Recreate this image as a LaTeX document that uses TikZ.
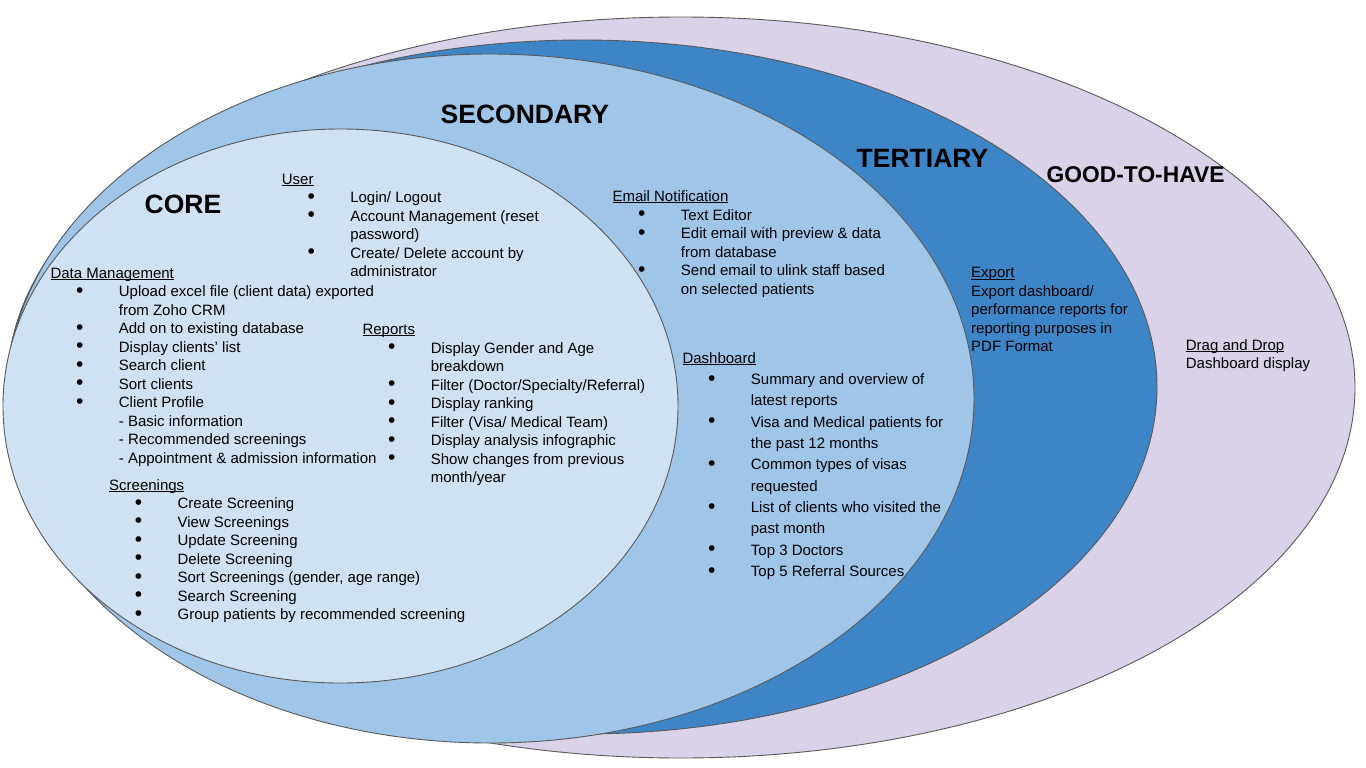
\documentclass[tikz,border=0pt]{standalone}
\usepackage{fontspec}
\setmainfont{Liberation Sans}
\definecolor{cGood}{HTML}{D9D2E9}
\definecolor{cTert}{HTML}{3D85C6}
\definecolor{cSec}{HTML}{9FC5E8}
\definecolor{cCore}{HTML}{CFE2F3}
\definecolor{cEdge}{HTML}{595959}
\newsavebox\ulbox
\newcommand{\ul}[1]{\sbox\ulbox{#1}\rlap{\rule[-1.7pt]{\wd\ulbox}{0.75pt}}\usebox\ulbox}
\newcommand{\bul}{\makebox[68.4pt][l]{\hspace{29.4pt}\makebox[0pt][c]{\raisebox{-0.6pt}{\fontsize{21}{21}\selectfont •}}}}
\newcommand{\ind}{\hspace*{68.4pt}}
\tikzset{
  ring/.style={draw=cEdge, line width=0.9pt},
  txt/.style={anchor=base west, inner sep=0pt, font=\fontsize{15}{18.5}\selectfont},
  dtxt/.style={anchor=base west, inner sep=0pt, font=\fontsize{15}{21.33}\selectfont},
  head/.style={anchor=base west, inner sep=0pt, font=\fontsize{26.5}{30}\selectfont\bfseries},
  headsm/.style={anchor=base west, inner sep=0pt, font=\fontsize{22.8}{26}\selectfont\bfseries}
}
\begin{document}
\begin{tikzpicture}[x=1pt,y=-1pt]
\useasboundingbox (0,0) rectangle (1366,768);
% ellipses
\fill[white] (0,0) rectangle (1366,768);
\draw[ring, fill=cGood] (681,387.5) ellipse [x radius=674, y radius=370.5];
\draw[ring, fill=cTert] (582,387) ellipse [x radius=575, y radius=347];
\draw[ring, fill=cSec] (490,398.5) ellipse [x radius=484, y radius=344.5];
\draw[ring, fill=cCore] (340.5,406) ellipse [x radius=337.5, y radius=277];
% headings
\node[head] (core) at (144.5,213) {CORE};
\node[head] (sec) at (440.5,124) {SECONDARY};
\node[head] (ter) at (856.5,167) {TERTIARY};
\node[headsm] (gth) at (1046.5,182.5) {GOOD-TO-HAVE};
% core blocks
\node[txt] (user) at (281.7,184) {\begin{tabular}[t]{@{}l@{}}
\ul{User}\\
\bul Login/ Logout\\
\bul Account Management (reset\\
\ind password)\\
\bul Create/ Delete account by\\
\ind administrator
\end{tabular}};
\node[txt] (data) at (50.3,278) {\begin{tabular}[t]{@{}l@{}}
\ul{Data Management}\\
\bul Upload excel file (client data) exported\\
\ind from Zoho CRM\\
\bul Add on to existing database\\
\bul Display clients' list\\
\bul Search client\\
\bul Sort clients\\
\bul Client Profile\\
\ind - Basic information\\
\ind - Recommended screenings\\
\ind - Appointment \& admission information
\end{tabular}};
\node[txt] (reports) at (362.3,334.5) {\begin{tabular}[t]{@{}l@{}}
\ul{Reports}\\
\bul Display Gender and Age\\
\ind breakdown\\
\bul Filter (Doctor/Specialty/Referral)\\
\bul Display ranking\\
\bul Filter (Visa/ Medical Team)\\
\bul Display analysis infographic\\
\bul Show changes from previous\\
\ind month/year
\end{tabular}};
\node[txt] (scr) at (109,490) {\begin{tabular}[t]{@{}l@{}}
\ul{Screenings}\\
\bul Create Screening\\
\bul View Screenings\\
\bul Update Screening\\
\bul Delete Screening\\
\bul Sort Screenings (gender, age range)\\
\bul Search Screening\\
\bul Group patients by recommended screening
\end{tabular}};
% secondary blocks
\node[txt] (email) at (612.3,201.5) {\begin{tabular}[t]{@{}l@{}}
\ul{Email Notification}\\
\bul Text Editor\\
\bul Edit email with preview \& data\\
\ind from database\\
\bul Send email to ulink staff based\\
\ind on selected patients
\end{tabular}};
\node[dtxt] (dash) at (682.3,363.3) {\begin{tabular}[t]{@{}l@{}}
\ul{Dashboard}\\
\bul Summary and overview of\\
\ind latest reports\\
\bul Visa and Medical patients for\\
\ind the past 12 months\\
\bul Common types of visas\\
\ind requested\\
\bul List of clients who visited the\\
\ind past month\\
\bul Top 3 Doctors\\
\bul Top 5 Referral Sources
\end{tabular}};
% tertiary block
\node[txt] (export) at (971,277.7) {\begin{tabular}[t]{@{}l@{}}
\ul{Export}\\
Export dashboard/\\
performance reports for\\
reporting purposes in\\
PDF Format
\end{tabular}};
% good-to-have block
\node[txt] (drag) at (1185.7,350) {\begin{tabular}[t]{@{}l@{}}
\ul{Drag and Drop}\\
Dashboard display
\end{tabular}};
\end{tikzpicture}
\end{document}
